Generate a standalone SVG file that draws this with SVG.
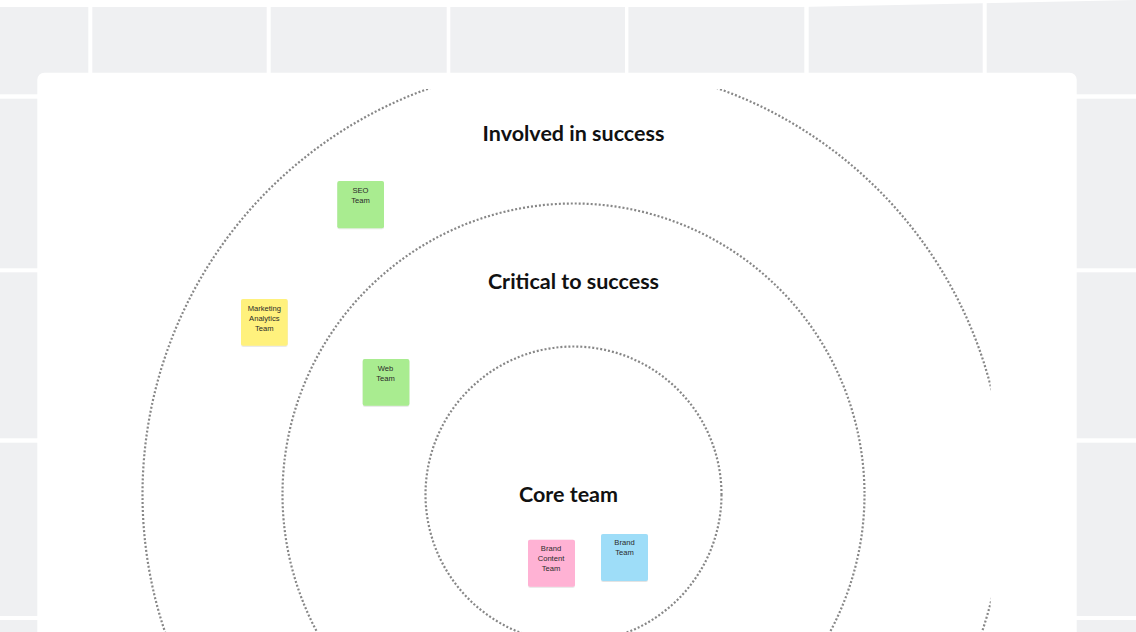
<svg xmlns="http://www.w3.org/2000/svg" width="1136" height="632" viewBox="0 0 1136 632">
  <style>
    .gap { fill: #ffffff; }
    .ring { fill: none; stroke: #878787; stroke-width: 2.2; stroke-dasharray: 2 2; }
    .title { font-family: Lato, "Open Sans", sans-serif; font-weight: 700; font-size: 21.5px; fill: #111111; text-anchor: middle; }
    .note-text { font-family: "Liberation Sans", Arial, sans-serif; font-size: 7.6px; fill: #2a2a2a; text-anchor: middle; }
    .note { filter: url(#shadow); }
  </style>
  <defs>
    <clipPath id="outerClip">
      <rect x="0" y="89" width="990.7" height="600"/>
    </clipPath>
    <filter id="shadow" x="-20%" y="-20%" width="140%" height="140%">
      <feDropShadow dx="0" dy="0.6" stdDeviation="0.7" flood-color="#000000" flood-opacity="0.18"/>
    </filter>
  </defs>
  <rect width="1136" height="632" fill="#ffffff"/>
  <!-- background tiles -->
  <g id="background">
    <polygon points="0,7 800,7 1136,0 1136,632 0,632" fill="#eff0f2"/>
    <rect class="gap" x="88.3" y="0" width="4" height="632"/>
    <rect class="gap" x="266.7" y="0" width="4" height="632"/>
    <rect class="gap" x="446.7" y="0" width="3.6" height="632"/>
    <rect class="gap" x="625" y="0" width="3.4" height="632"/>
    <rect class="gap" x="804.3" y="0" width="4.4" height="632"/>
    <rect class="gap" x="982.7" y="0" width="4" height="632"/>
    <rect class="gap" x="0" y="94.3" width="1136" height="4.4"/>
    <rect class="gap" x="0" y="268.3" width="1136" height="4"/>
    <rect class="gap" x="0" y="438.3" width="1136" height="4.4"/>
    <rect class="gap" x="0" y="616" width="1136" height="4"/>
    <rect x="37.3" y="72.7" width="1039.4" height="600" rx="7" fill="#ffffff"/>
  </g>
  <!-- rings -->
  <g id="rings">
    <circle class="ring" cx="573.5" cy="494.5" r="431" clip-path="url(#outerClip)"/>
    <circle class="ring" cx="573.5" cy="494.5" r="291"/>
    <circle class="ring" cx="573.5" cy="494.5" r="148"/>
  </g>
  <g id="labels">
    <text class="title" x="573.5" y="140.8">Involved in success</text>
    <text class="title" x="573.5" y="288.8">Critical to success</text>
    <text class="title" x="568.5" y="501.8">Core team</text>
  </g>
  <g id="connectors"/>
  <g id="seo-team">
    <rect class="note" x="337.3" y="181" width="46.7" height="47.3" rx="2" fill="#a9ec90"/>
    <text class="note-text" x="360.5" y="192.5">SEO</text>
    <text class="note-text" x="360.5" y="202.5">Team</text>
  </g>
  <g id="marketing-analytics-team">
    <rect class="note" x="241" y="299" width="46.7" height="46.7" rx="2" fill="#fff17d"/>
    <text class="note-text" x="264.3" y="310.5">Marketing</text>
    <text class="note-text" x="264.3" y="320.5">Analytics</text>
    <text class="note-text" x="264.3" y="330.5">Team</text>
  </g>
  <g id="web-team">
    <rect class="note" x="362.7" y="359" width="46.7" height="46.7" rx="2" fill="#a9ec90"/>
    <text class="note-text" x="385.5" y="370.5">Web</text>
    <text class="note-text" x="385.5" y="380.5">Team</text>
  </g>
  <g id="brand-content-team">
    <rect class="note" x="528" y="539.7" width="47" height="47" rx="2" fill="#ffb2d4"/>
    <text class="note-text" x="551" y="551">Brand</text>
    <text class="note-text" x="551" y="561">Content</text>
    <text class="note-text" x="551" y="571">Team</text>
  </g>
  <g id="brand-team">
    <rect class="note" x="601" y="534" width="47" height="47" rx="2" fill="#9eddf8"/>
    <text class="note-text" x="624.5" y="545">Brand</text>
    <text class="note-text" x="624.5" y="555">Team</text>
  </g>
</svg>
